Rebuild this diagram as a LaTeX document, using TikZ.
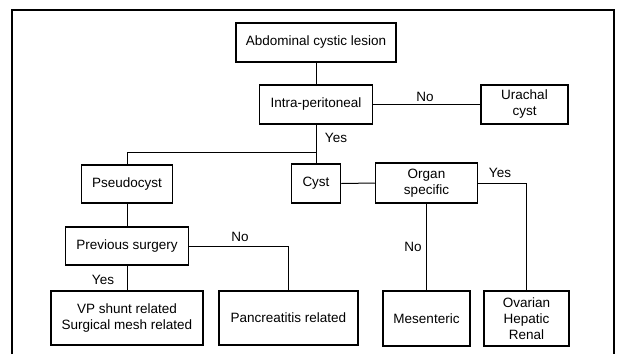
\documentclass[tikz,border=0pt]{standalone}
\usepackage{fontspec}
\setmainfont{Liberation Sans}
\begin{document}
\begin{tikzpicture}[x=1pt,y=-1pt,
  box/.style={draw,line width=1.5pt,rectangle,inner sep=0pt,align=center,
    font=\fontsize{13.5}{16}\selectfont},
  conn/.style={line width=1pt},
  lbl/.style={font=\fontsize{13.5}{16}\selectfont,inner sep=0pt}]
\useasboundingbox (0,0) rectangle (622,354);
% frame
\draw[line width=2.6pt] (12,354) -- (12,10) -- (614,10) -- (614,354);
% nodes
\node[box,minimum width=160pt,minimum height=39pt] (abd) at (316,42.5) {Abdominal cystic lesion};
\node[box,minimum width=113pt,minimum height=39pt] (ip) at (316,104.5) {Intra-peritoneal};
\node[box,minimum width=87pt,minimum height=39pt] (ur) at (524.5,104.5) {Urachal\\cyst};
\node[box,minimum width=91pt,minimum height=38pt] (pseudo) at (127,184) {Pseudocyst};
\node[box,minimum width=49pt,minimum height=39pt] (cyst) at (316,183.5) {Cyst};
\node[box,minimum width=102pt,minimum height=40pt] (organ) at (426.5,183) {Organ\\specific};
\node[box,minimum width=123pt,minimum height=38pt] (prev) at (127,246) {Previous surgery};
\node[box,minimum width=152pt,minimum height=54pt] (vp) at (127,318) {VP shunt related\\Surgical mesh related};
\node[box,minimum width=139pt,minimum height=54pt] (panc) at (288.5,318) {Pancreatitis related};
\node[box,minimum width=87pt,minimum height=55pt] (mes) at (426.5,318.5) {Mesenteric};
\node[box,minimum width=85pt,minimum height=55pt] (ova) at (526.5,318.5) {Ovarian\\Hepatic\\Renal};
\coordinate (j) at (316,152);
\coordinate (oy) at (526.5,183);
% connectors
\draw[conn] (abd.south) -- (ip.north);
\draw[conn] (ip.east) -- (ur.west);
\draw[conn] (ip.south) -- (cyst.north);
\draw[conn] (j) -| (pseudo.north);
\draw[conn] (cyst.east) -- (organ.west);
\draw[conn] (organ.east) -| (ova.north);
\draw[conn] (organ.south) -- (mes.north);
\draw[conn] (pseudo.south) -- (prev.north);
\draw[conn] (prev.east) -| (panc.north);
\draw[conn] (prev.south) -- (vp.north);
% labels
\node[lbl] (l1) at (425,97) {No};
\node[lbl] (l2) at (336,138) {Yes};
\node[lbl] (l3) at (500,173) {Yes};
\node[lbl] (l4) at (413,247) {No};
\node[lbl] (l5) at (240,237) {No};
\node[lbl] (l6) at (103,280) {Yes};
\end{tikzpicture}
\end{document}
